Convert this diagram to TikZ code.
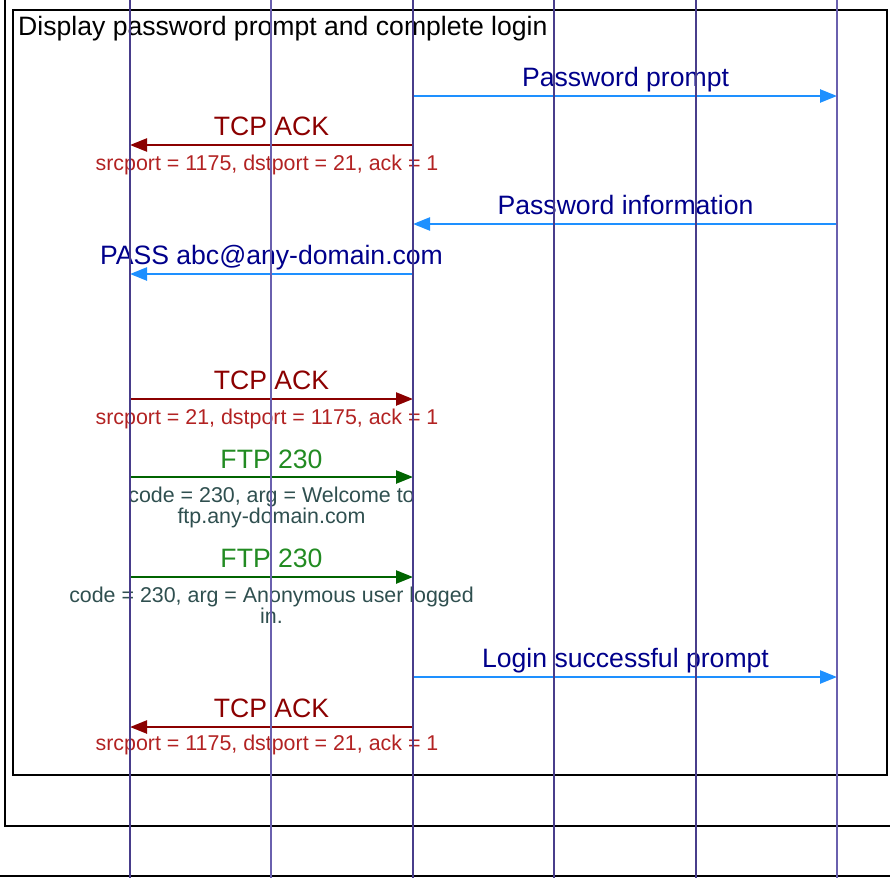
\documentclass[tikz,border=0pt]{standalone}
\usepackage{fontspec}
\setmainfont{Liberation Sans}
\usetikzlibrary{arrows.meta}
\definecolor{lifeC}{HTML}{483D8B}
\definecolor{lifeL}{HTML}{6A60AE}
\definecolor{msgBlue}{HTML}{1E90FF}
\definecolor{lblBlue}{HTML}{00008B}
\definecolor{ackArrow}{HTML}{8B0000}
\definecolor{ackSub}{HTML}{B22222}
\definecolor{ftpArrow}{HTML}{006400}
\definecolor{ftpLbl}{HTML}{228B22}
\definecolor{ftpSub}{HTML}{2F4F4F}
\begin{document}
\begin{tikzpicture}[x=1pt,y=-1pt,
  frame/.style={draw=black,line width=2.6pt},
  life/.style={draw=lifeC,line width=1.8pt},
  lifelight/.style={draw=lifeL,line width=1.8pt},
  msg/.style={line width=2.4pt,-{Triangle[length=17pt,width=13pt]}},
  bluemsg/.style={msg,draw=msgBlue,fill=msgBlue},
  ackmsg/.style={msg,draw=ackArrow,fill=ackArrow},
  ftpmsg/.style={msg,draw=ftpArrow,fill=ftpArrow},
  lbl/.style={anchor=base,inner sep=0pt,font=\fontsize{26.6}{26.6}\selectfont},
  bluelbl/.style={lbl,text=lblBlue},
  acklbl/.style={lbl,text=ackArrow},
  ftplbl/.style={lbl,text=ftpLbl},
  sub/.style={anchor=north,inner sep=0pt,align=center,font=\fontsize{21.4}{21}\selectfont},
  acksub/.style={sub,text=ackSub},
  ftpsub/.style={sub,text=ftpSub}]
\useasboundingbox (0,0) rectangle (890,878);
% frames
\draw[frame] (5,-5) -- (5,826) -- (895,826);
\draw[frame] (-5,876) -- (895,876);
\draw[frame] (13,10) rectangle (887,775);
\node[anchor=base west,inner sep=0pt,font=\fontsize{26.6}{26.6}\selectfont] (title) at (18,35) {Display password prompt and complete login};
% lifeline coordinates
\foreach \n/\x in {1/130,2/271,3/413,4/554,5/696,6/837}{
  \coordinate (T\n) at (\x,0);
  \coordinate (B\n) at (\x,878);
}
% message endpoints
\coordinate (m1a) at (413,96);  \coordinate (m1b) at (837,96);
\coordinate (m2a) at (413,145); \coordinate (m2b) at (130,145);
\coordinate (m3a) at (837,224); \coordinate (m3b) at (413,224);
\coordinate (m4a) at (413,274); \coordinate (m4b) at (130,274);
\coordinate (m5a) at (130,399); \coordinate (m5b) at (413,399);
\coordinate (m6a) at (130,477); \coordinate (m6b) at (413,477);
\coordinate (m7a) at (130,577); \coordinate (m7b) at (413,577);
\coordinate (m8a) at (413,677); \coordinate (m8b) at (837,677);
\coordinate (m9a) at (413,727); \coordinate (m9b) at (130,727);
% arrows
\draw[bluemsg] (m1a) -- (m1b);
\draw[ackmsg] (m2a) -- (m2b);
\draw[bluemsg] (m3a) -- (m3b);
\draw[bluemsg] (m4a) -- (m4b);
\draw[ackmsg] (m5a) -- (m5b);
\draw[ftpmsg] (m6a) -- (m6b);
\draw[ftpmsg] (m7a) -- (m7b);
\draw[bluemsg] (m8a) -- (m8b);
\draw[ackmsg] (m9a) -- (m9b);
% labels
\node[bluelbl] (l1) at (625.5,86) {Password prompt};
\node[acklbl] (l2) at (271.5,135) {TCP ACK};
\node[acksub] (s2) at (267,155) {srcport = 1175, dstport = 21, ack = 1};
\node[bluelbl] (l3) at (625.5,214) {Password information};
\node[bluelbl] (l4) at (271.5,264) {PASS abc@any-domain.com};
\node[acklbl] (l5) at (271.5,389) {TCP ACK};
\node[acksub] (s5) at (267,409) {srcport = 21, dstport = 1175, ack = 1};
\node[ftplbl] (l6) at (271.5,468) {FTP 230};
\node[ftpsub] (s6) at (271.5,487) {code = 230, arg = Welcome to\\ftp.any-domain.com};
\node[ftplbl] (l7) at (271.5,567) {FTP 230};
\node[ftpsub] (s7) at (271.5,587) {code = 230, arg = Anonymous user logged\\in.};
\node[bluelbl] (l8) at (625.5,667) {Login successful prompt};
\node[acklbl] (l9) at (271.5,717) {TCP ACK};
\node[acksub] (s9) at (267,735) {srcport = 1175, dstport = 21, ack = 1};
% lifelines
\draw[life] (T1) -- (B1);
\draw[lifelight] (T2) -- (B2);
\draw[life] (T3) -- (B3);
\draw[life] (T4) -- (B4);
\draw[life] (T5) -- (B5);
\draw[lifelight] (T6) -- (B6);
\end{tikzpicture}
\end{document}
